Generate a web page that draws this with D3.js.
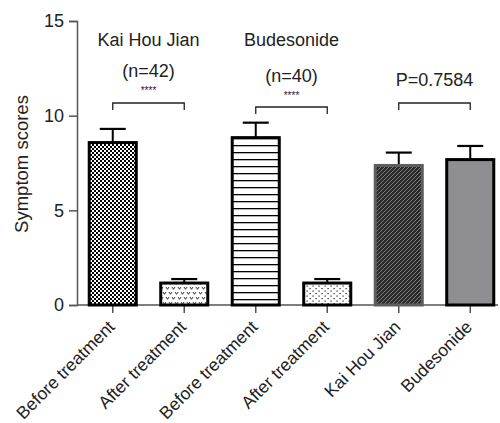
<!DOCTYPE html>
<html><head><meta charset="utf-8">
<script src="https://cdn.jsdelivr.net/npm/d3@7"></script>
<style>body{margin:0;background:#fff}svg{display:block}text{font-family:"Liberation Sans",Arial,sans-serif}</style>
</head><body><svg id="c" width="500" height="423"></svg>
<script>
const categories = ["Before treatment","After treatment","Before treatment","After treatment","Kai Hou Jian","Budesonide"];
const means = [8.58, 1.16, 8.84, 1.16, 7.37, 7.68];
const errs = [0.72, 0.21, 0.79, 0.21, 0.68, 0.72];
const yTicks = [0, 5, 10, 15];
const patterns = ["checker","vmarks","hlines","dots","diag","solid"];

const svg = d3.select("#c");
const x = d3.scaleBand().domain(d3.range(categories.length)).range([77, 506]).paddingInner(0.3).paddingOuter(0.15);
const y = d3.scaleLinear().domain([0, 15]).range([305, 21]);

const defs = svg.append("defs");
let p = defs.append("pattern").attr("id","checker").attr("width",4).attr("height",4).attr("patternUnits","userSpaceOnUse");
p.append("rect").attr("width",4).attr("height",4).attr("fill","#fff");
p.append("rect").attr("width",2).attr("height",2).attr("fill","#000");
p.append("rect").attr("x",2).attr("y",2).attr("width",2).attr("height",2).attr("fill","#000");
p = defs.append("pattern").attr("id","vmarks").attr("width",12).attr("height",10).attr("patternUnits","userSpaceOnUse");
p.append("rect").attr("width",12).attr("height",10).attr("fill","#fff");
p.append("path").attr("d","M1,2 L2.5,4.3 L4,2 M7,2 L8.5,4.3 L10,2 M4,7 L5.5,9.3 L7,7 M10,7 L11.5,9.3 L13,7 M-2,7 L-0.5,9.3 L1,7")
  .attr("stroke","#000").attr("stroke-width",0.8).attr("fill","none");
p = defs.append("pattern").attr("id","hlines").attr("width",6).attr("height",7).attr("patternUnits","userSpaceOnUse");
p.append("rect").attr("width",6).attr("height",7).attr("fill","#fff");
p.append("rect").attr("y",5).attr("width",6).attr("height",1.3).attr("fill","#000");
p = defs.append("pattern").attr("id","dots").attr("width",6).attr("height",5).attr("patternUnits","userSpaceOnUse");
p.append("rect").attr("width",6).attr("height",5).attr("fill","#fff");
p.append("rect").attr("x",0.5).attr("y",0.5).attr("width",1.2).attr("height",1.2).attr("fill","#222");
p.append("rect").attr("x",3.5).attr("y",3).attr("width",1.2).attr("height",1.2).attr("fill","#222");
p = defs.append("pattern").attr("id","diag").attr("width",4).attr("height",4).attr("patternUnits","userSpaceOnUse");
p.append("rect").attr("width",4).attr("height",4).attr("fill","#2a2a2a");
p.append("path").attr("d","M-1,1 L1,-1 M0,4 L4,0 M3,5 L5,3").attr("stroke","#8a8a8a").attr("stroke-width",0.9);

const fills = {checker:"url(#checker)",vmarks:"url(#vmarks)",hlines:"url(#hlines)",dots:"url(#dots)",diag:"url(#diag)",solid:"#8e8e93"};

const FS = 18;
const ya = svg.append("g").attr("transform","translate(77,0)").call(d3.axisLeft(y).tickValues(yTicks).tickSize(8).tickPadding(5));
ya.select(".domain").attr("stroke","#555").attr("stroke-width",1.5);
ya.selectAll(".tick line").attr("stroke","#555").attr("stroke-width",1.5);
ya.selectAll(".tick text").attr("font-size",FS).attr("fill","#222").style("font-family","Liberation Sans, Arial, sans-serif");

const xa = svg.append("g").attr("transform","translate(0,305)").call(d3.axisBottom(x).tickSize(8).tickFormat(i=>categories[i]));
xa.select(".domain").attr("d","M77,0H498").attr("stroke","#555").attr("stroke-width",1.5);
xa.selectAll(".tick line").attr("stroke","#555").attr("stroke-width",1.5);
xa.selectAll(".tick text").attr("font-size",17.5).attr("fill","#222").style("font-family","Liberation Sans, Arial, sans-serif")
  .attr("text-anchor","end").attr("dy",0).attr("transform","translate(3,23) rotate(-45)").attr("y",0).attr("x",0);

const g = svg.append("g");
means.forEach((m,i)=>{
  const cx = x(i)+x.bandwidth()/2;
  g.append("line").attr("x1",cx).attr("x2",cx).attr("y1",y(m)).attr("y2",y(m+errs[i])).attr("stroke","#000").attr("stroke-width",2);
  g.append("line").attr("x1",cx-13).attr("x2",cx+13).attr("y1",y(m+errs[i])).attr("y2",y(m+errs[i])).attr("stroke","#000").attr("stroke-width",2.2);
});
g.selectAll("rect.bar").data(means).join("rect").attr("class","bar")
  .attr("x",(d,i)=>x(i)+1.5).attr("width",x.bandwidth()-3)
  .attr("y",d=>y(d)).attr("height",d=>y(0)-y(d))
  .attr("fill",(d,i)=>fills[patterns[i]])
  .attr("stroke",(d,i)=>i===4?"#5e5e5e":"#000").attr("stroke-width",3);

svg.append("text").attr("transform","translate(28,164) rotate(-90)").attr("text-anchor","middle")
  .attr("font-size",18.5).attr("fill","#222").text("Symptom scores");

function cxOf(i){return x(i)+x.bandwidth()/2;}
const ann = svg.append("g").attr("fill","#222");
ann.append("text").attr("x",(cxOf(0)+cxOf(1))/2).attr("y",46).attr("text-anchor","middle").attr("font-size",FS).text("Kai Hou Jian");
ann.append("text").attr("x",(cxOf(2)+cxOf(3))/2).attr("y",46).attr("text-anchor","middle").attr("font-size",FS).text("Budesonide");
ann.append("text").attr("x",(cxOf(0)+cxOf(1))/2).attr("y",77).attr("text-anchor","middle").attr("font-size",FS).text("(n=42)");
ann.append("text").attr("x",(cxOf(2)+cxOf(3))/2).attr("y",82).attr("text-anchor","middle").attr("font-size",FS).text("(n=40)");
ann.append("text").attr("x",(cxOf(4)+cxOf(5))/2).attr("y",86).attr("text-anchor","middle").attr("font-size",FS).text("P=0.7584");
ann.append("text").attr("x",(cxOf(0)+cxOf(1))/2).attr("y",94).attr("text-anchor","middle").attr("font-size",10).text("****");
ann.append("text").attr("x",(cxOf(2)+cxOf(3))/2).attr("y",99).attr("text-anchor","middle").attr("font-size",10).text("****");
function bracket(a,b,yy){
  svg.append("path").attr("d",`M${cxOf(a)},${yy+7}V${yy}H${cxOf(b)}V${yy+7}`).attr("fill","none").attr("stroke","#222").attr("stroke-width",1.3);
}
bracket(0,1,103); bracket(2,3,107); bracket(4,5,103);
</script></body></html>
